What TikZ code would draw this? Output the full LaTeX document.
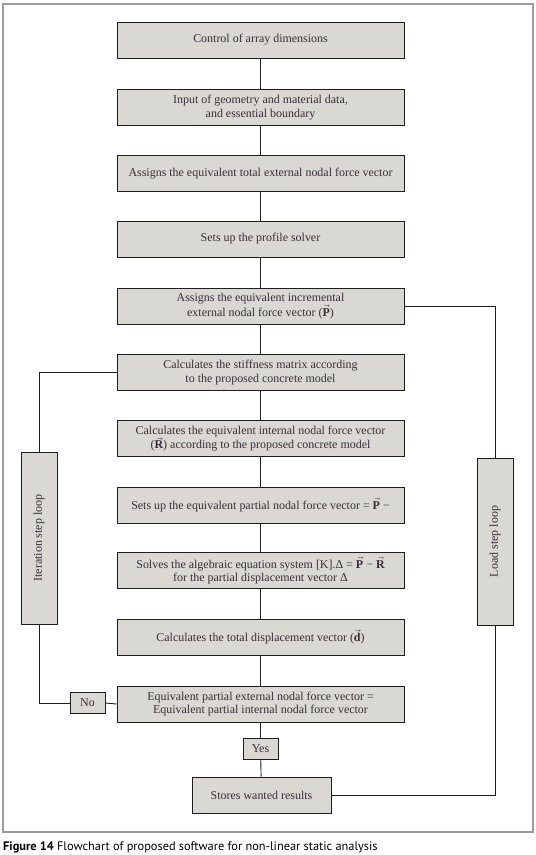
\documentclass[tikz,border=0pt]{standalone}
\usepackage{fontspec}
\setmainfont{Liberation Serif}
\newfontfamily\capfont{PT Sans}
\usetikzlibrary{positioning,calc}
\definecolor{Ink}{HTML}{3A2D3A}
\definecolor{Fill}{HTML}{DAD8D3}
\definecolor{Frame}{HTML}{9C9C9C}
\definecolor{Edge}{HTML}{1E1E1E}
\newcommand{\vP}{$\vec{\mathbf{P}}$}
\newcommand{\vR}{$\vec{\mathbf{R}}$}
\tikzset{box/.style={draw=Edge,fill=Fill,line width=.9pt,minimum width=287bp,minimum height=36bp,inner sep=0pt,align=center,font=\fontsize{12}{13.5}\selectfont,text=Ink},tag/.style={box,minimum width=35bp,minimum height=21bp},loopbox/.style={box,minimum height=36bp,rotate=90},link/.style={line width=.9pt,draw=Edge}}

\begin{document}
\begin{tikzpicture}[x=1bp,y=-1bp]
\useasboundingbox (0,0) rectangle (536,855);
\draw[Frame,line width=1.3pt] (3,4) rectangle (533,832);
\node[box] (dims) at (260.5,40) {Control of array dimensions};
\node[box] (input) at (260.5,107.5) {Input of geometry and material data,\\and essential boundary};
\node[box] (total) at (260.5,173.5) {Assigns the equivalent total external nodal force vector};
\node[box] (prof) at (260.5,239) {Sets up the profile solver};
\node[box] (incr) at (260.5,306) {Assigns the equivalent incremental\\external nodal force vector (\vP)};
\node[box] (stiff) at (260.5,372.5) {Calculates the stiffness matrix according\\to the proposed concrete model};
\node[box] (intern) at (260.5,438.5) {Calculates the equivalent internal nodal force vector\\(\vR) according to the proposed concrete model};
\node[box] (part) at (260.5,505) {Sets up the equivalent partial nodal force vector = \vP{} −};
\node[box] (solve) at (260.5,570.5) {Solves the algebraic equation system [K].Δ = \vP{} − \vR\\for the partial displacement vector Δ};
\node[box] (disp) at (260.5,637) {Calculates the total displacement vector ($\vec{\mathbf{d}}$)};
\node[box] (check) at (260.5,704) {Equivalent partial external nodal force vector =\\Equivalent partial internal nodal force vector};
\node[tag] (yes) at (260.5,748.5) {Yes};
\node[box,minimum width=139bp] (store) at (261.5,795) {Stores wanted results};
\node[tag] (no) at (87.5,703) {No};
\node[loopbox,minimum width=172bp] (iter) at (39,538) {Iteration step loop};
\node[loopbox,minimum width=167bp] (load) at (495,541.5) {Load step loop};
\draw[link] (dims)--(input);\draw[link] (input)--(total);\draw[link] (total)--(prof);\draw[link] (prof)--(incr);
\draw[link] (incr)--(stiff);\draw[link] (stiff)--(intern);\draw[link] (intern)--(part);\draw[link] (part)--(solve);
\draw[link] (solve)--(disp);\draw[link] (disp)--(check);\draw[link] (check)--(yes);\draw[link] (yes)--(store);
\draw[link] (check.west)--(no.east);
\draw[link] (no.west) -| (iter.west);
\draw[link] (iter.east) |- (stiff.west);
\draw[link] (store.east) -| (load.west);
\draw[link] (load.east) |- (incr.east);
\node[anchor=base west,inner sep=0pt,font=\capfont\fontsize{12.4}{14}\selectfont,text=black] (cap) at (3,850) {\textbf{Figure 14} Flowchart of proposed software for non-linear static analysis};
\end{tikzpicture}
\end{document}
